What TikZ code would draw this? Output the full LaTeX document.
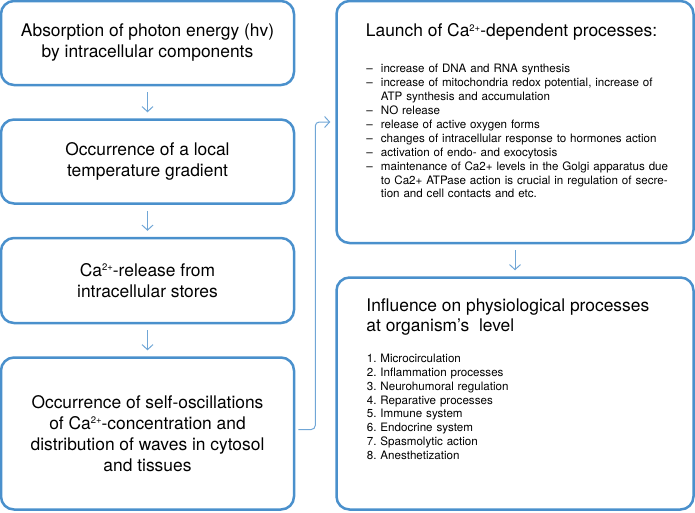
\documentclass[tikz,border=0pt]{standalone}
\usepackage{fontspec}
\setmainfont{TeX Gyre Heros}
\usetikzlibrary{
  arrows.meta,
  calc,
  positioning
}
\definecolor{boxblue}{RGB}{74,144,204}
\definecolor{linkblue}{RGB}{112,166,214}

\newcommand{\caion}{Ca\raisebox{0.62ex}{\fontsize{9.5}{9.5}\selectfont 2+}}
\newcommand{\dashitem}[1]{\par\noindent\hangindent=14.5pt\hangafter=1\makebox[14.5pt][l]{--}#1\par}
\newcommand{\numitem}[2]{\par\noindent\makebox[13.5pt][l]{#1.}#2\par}

\begin{document}
\begin{tikzpicture}[
  x=1pt, y=1pt,
  box/.style={draw=boxblue, line width=2.5pt, rounded corners=13pt,
              minimum width=293pt, align=center,
              font=\fontsize{17.4}{21}\selectfont},
  link/.style={draw=linkblue, line width=1pt,
               -{Straight Barb[length=5pt,width=11pt]},
               shorten <=6pt, shorten >=6pt},
  head/.style={inner sep=0pt, align=left, font=\fontsize{17.4}{20.5}\selectfont},
  items/.style={inner sep=0pt, anchor=north west, text width=320pt,
                align=left, font=\fontsize{11.6}{13.9}\selectfont},
  node distance=32pt
]
\useasboundingbox (0,0) rectangle (695,-512);

% left column
\node[box, minimum height=84pt] (absorb) at (147.5,-43) {Absorption of photon energy (hv)\\by intracellular components};
\node[box, minimum height=84pt, below=of absorb] (gradient) {Occurrence of a local\\temperature gradient};
\node[box, minimum height=85pt, below=of gradient] (release) {\caion-release from\\intracellular stores};
\node[box, minimum height=152pt, below=of release] (oscill) {Occurrence of self-oscillations\\of \caion-concentration and\\distribution of waves in cytosol\\and tissues};

\draw[link] (absorb) -- (gradient);
\draw[link] (gradient) -- (release);
\draw[link] (release) -- (oscill);

% right column
\node[box, minimum width=357pt, minimum height=242pt, right=40pt of absorb.north east, anchor=north west] (launch) {};
\node[box, minimum width=357pt, minimum height=232pt, below=of launch] (influence) {};

\node[head, anchor=base west] (launchhead) at ([xshift=30.5pt,yshift=-37pt]launch.north west) {Launch of \caion-dependent processes:};
\node[items] (launchlist) at ([xshift=31pt,yshift=-59pt]launch.north west) {%
  \dashitem{increase of DNA and RNA synthesis}
  \dashitem{increase of mitochondria redox potential, increase of\newline ATP synthesis and accumulation}
  \dashitem{NO release}
  \dashitem{release of active oxygen forms}
  \dashitem{changes of intracellular response to hormones action}
  \dashitem{activation of endo- and exocytosis}
  \dashitem{maintenance of Ca2+ levels in the Golgi apparatus due\newline to Ca2+ ATPase action is crucial in regulation of secre-\newline tion and cell contacts and etc.}};

\node[head, anchor=north west] (influencehead) at ([xshift=31pt,yshift=-22pt]influence.north west) {Influence on physiological processes\\at organism’s~ level};
\node[items] (influencelist) at ([xshift=31.5pt,yshift=-72pt]influence.north west) {%
  \numitem{1}{Microcirculation}
  \numitem{2}{Inflammation processes}
  \numitem{3}{Neurohumoral regulation}
  \numitem{4}{Reparative processes}
  \numitem{5}{Immune system}
  \numitem{6}{Endocrine system}
  \numitem{7}{Spasmolytic action}
  \numitem{8}{Anesthetization}};

\draw[link] (launch) -- (influence);
\draw[link, shorten <=3pt, shorten >=5pt, rounded corners=4pt]
  ([yshift=4pt]oscill.east) -| ($(oscill.east)!0.5!(launch.west)$) |- (launch.west);

\end{tikzpicture}
\end{document}
